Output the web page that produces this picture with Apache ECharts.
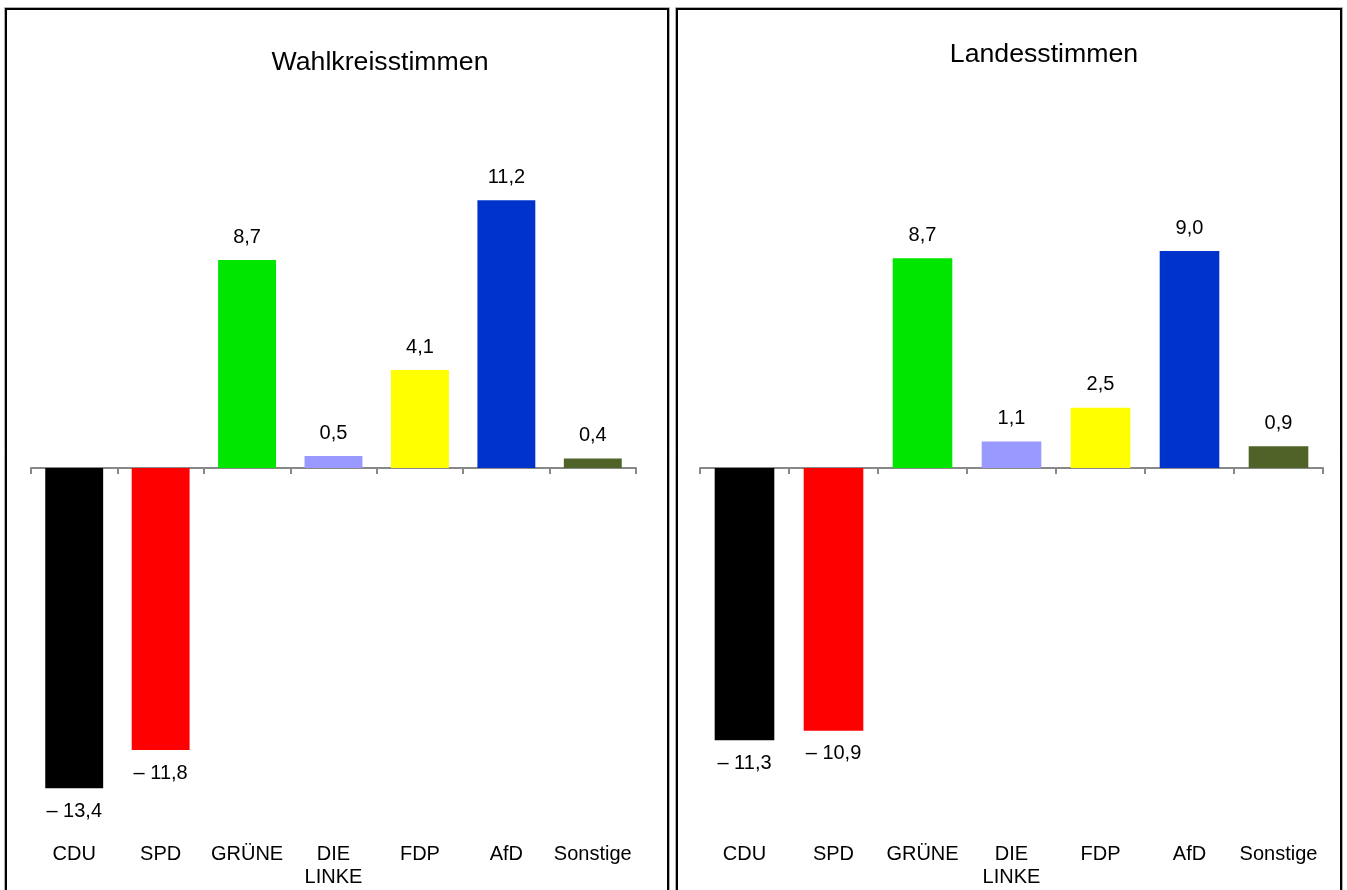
<!DOCTYPE html>
<html>
<head>
<meta charset="utf-8">
<script src="https://cdn.jsdelivr.net/npm/echarts@6/dist/echarts.min.js"></script>
<style>
html,body{margin:0;padding:0;background:#fff;}
#c{width:1347px;height:890px;}
</style>
</head>
<body>
<div id="c"></div>
<script>
var categories = ['CDU', 'SPD', 'GRÜNE', 'DIE\nLINKE', 'FDP', 'AfD', 'Sonstige'];
var colors = ['#000000', '#ff0000', '#00e600', '#9999ff', '#ffff00', '#0033cc', '#4f6228'];
var wahlkreisstimmen = [-13.4, -11.8, 8.7, 0.5, 4.1, 11.2, 0.4];
var landesstimmen = [-11.3, -10.9, 8.7, 1.1, 2.5, 9.0, 0.9];
var titles = ['Wahlkreisstimmen', 'Landesstimmen'];

var FONT = 'Liberation Sans, Arial, sans-serif';

function fmt(v) {
  var s = Math.abs(v).toFixed(1).replace('.', ',');
  return v < 0 ? '\u2013 ' + s : s;
}

function seriesData(vals) {
  return vals.map(function (v, i) {
    return {
      value: v,
      itemStyle: { color: colors[i] },
      label: { position: v < 0 ? 'bottom' : 'top' }
    };
  });
}

var grids = [
  { left: 31, right: 711, top: 109.5, bottom: 63.5 },
  { left: 700, right: 24, top: 106.5, bottom: 60.5 }
];
var margins = [16, 13];
var datasets = [wahlkreisstimmen, landesstimmen];

var xAxes = [], yAxes = [], series = [];
for (var g = 0; g < 2; g++) {
  xAxes.push({
    type: 'category', gridIndex: g, data: categories,
    axisLine: { onZero: true, lineStyle: { color: '#888888', width: 2 } },
    axisTick: { show: true, length: 6, lineStyle: { color: '#888888', width: 2 } },
    axisLabel: { show: false }
  });
  xAxes.push({
    type: 'category', gridIndex: g, data: categories, position: 'bottom',
    axisLine: { show: false, onZero: false }, axisTick: { show: false },
    axisLabel: { show: true, interval: 0, margin: margins[g], color: '#000', fontSize: 20, lineHeight: 23, fontFamily: FONT }
  });
  yAxes.push({
    type: 'value', gridIndex: g, min: -15, max: 15, show: false,
    splitLine: { show: false }
  });
  series.push({
    type: 'bar', xAxisIndex: g * 2, yAxisIndex: g,
    barWidth: '67%',
    data: seriesData(datasets[g]),
    label: {
      show: true, distance: 13, color: '#000', fontSize: 20, fontFamily: FONT,
      formatter: function (p) { return fmt(p.value); }
    },
    animation: false
  });
}

function panel(x1, x2) {
  return [
    { type: 'rect', shape: { x: x1 - 1.5, y: 7.5, width: x2 - x1 + 3, height: 900 },
      style: { fill: 'none', stroke: '#b0b0b0', lineWidth: 1 }, z: 0 },
    { type: 'rect', shape: { x: x1, y: 9, width: x2 - x1, height: 900 },
      style: { fill: 'none', stroke: '#000', lineWidth: 2 }, z: 1 }
  ];
}

var graphics = [].concat(panel(6, 668), panel(677, 1341));
graphics.push({ type: 'text', x: 380, y: 63, z: 2,
  style: { text: titles[0], font: '26.7px ' + FONT, fill: '#000', textAlign: 'center', textVerticalAlign: 'middle' } });
graphics.push({ type: 'text', x: 1044, y: 55, z: 2,
  style: { text: titles[1], font: '26.7px ' + FONT, fill: '#000', textAlign: 'center', textVerticalAlign: 'middle' } });

var chart = echarts.init(document.getElementById('c'));
chart.setOption({
  animation: false,
  backgroundColor: '#ffffff',
  grid: grids,
  xAxis: xAxes,
  yAxis: yAxes,
  series: series,
  graphic: graphics
});
</script>
</body>
</html>
